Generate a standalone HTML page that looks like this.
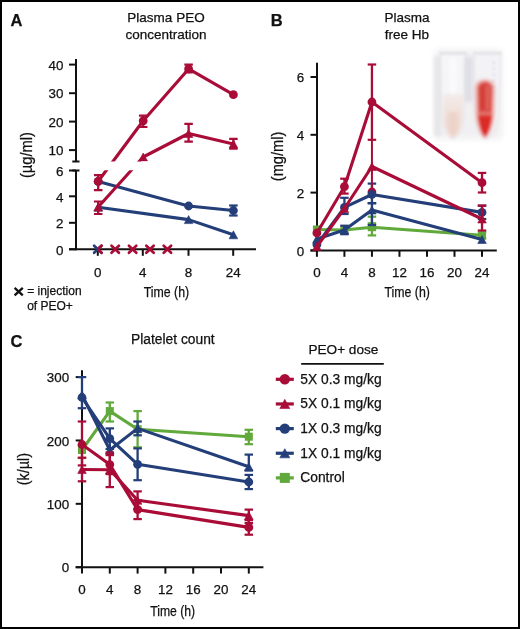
<!DOCTYPE html>
<html><head><meta charset="utf-8"><style>
html,body{margin:0;padding:0;background:#fff;}
body{width:520px;height:629px;overflow:hidden;}
svg{display:block;will-change:transform;font-family:"Liberation Sans",sans-serif;fill:#111;}
svg text{fill:#111;stroke:#111;stroke-width:0.25px;}
</style></head><body>
<svg width="520" height="629" viewBox="0 0 520 629">
<defs>
<clipPath id="gapA"><rect x="0" y="0" width="520" height="161.5"/><rect x="0" y="170.3" width="520" height="460"/></clipPath>
<clipPath id="rightHalf"><rect x="97.8" y="230" width="20" height="40"/></clipPath>
<linearGradient id="pinkL" x1="0" y1="0" x2="0" y2="1"><stop offset="0" stop-color="#f3ebe9"/><stop offset="0.6" stop-color="#f0ddd6"/><stop offset="1" stop-color="#edd3c9"/></linearGradient>
<radialGradient id="photoBg" cx="0.5" cy="0.5" r="0.6"><stop offset="0" stop-color="#f1f1f3"/><stop offset="0.75" stop-color="#f4f4f5"/><stop offset="1" stop-color="#ffffff"/></radialGradient>
<filter id="soft1" x="-20%" y="-20%" width="140%" height="140%"><feGaussianBlur stdDeviation="0.8"/></filter>
<filter id="soft2" x="-20%" y="-20%" width="140%" height="140%"><feGaussianBlur stdDeviation="1.5"/></filter>
<filter id="soft15" x="-20%" y="-20%" width="140%" height="140%"><feGaussianBlur stdDeviation="1.1"/></filter>
<filter id="soft3" x="-20%" y="-20%" width="140%" height="140%"><feGaussianBlur stdDeviation="3"/></filter>
</defs>
<rect x="0" y="0" width="520" height="629" fill="#fff"/>
<text x="10.5" y="26" font-size="16.5" text-anchor="start" font-weight="bold">A</text>
<text x="166" y="22" font-size="13.5" text-anchor="middle" >Plasma PEO</text>
<text x="166" y="38.5" font-size="13.5" text-anchor="middle" >concentration</text>
<line x1="76.00" y1="59.00" x2="76.00" y2="161.50" stroke="#111" stroke-width="2" stroke-linecap="butt"/>
<line x1="72.30" y1="161.50" x2="79.50" y2="161.50" stroke="#111" stroke-width="2" stroke-linecap="butt"/>
<line x1="76.00" y1="170.50" x2="76.00" y2="250.30" stroke="#111" stroke-width="2" stroke-linecap="butt"/>
<line x1="72.30" y1="170.50" x2="79.50" y2="170.50" stroke="#111" stroke-width="2" stroke-linecap="butt"/>
<line x1="69.00" y1="64.60" x2="76.00" y2="64.60" stroke="#111" stroke-width="2" stroke-linecap="butt"/>
<text x="63.5" y="69.8" font-size="13.4" text-anchor="end" >40</text>
<line x1="69.00" y1="93.20" x2="76.00" y2="93.20" stroke="#111" stroke-width="2" stroke-linecap="butt"/>
<text x="63.5" y="98.4" font-size="13.4" text-anchor="end" >30</text>
<line x1="69.00" y1="121.60" x2="76.00" y2="121.60" stroke="#111" stroke-width="2" stroke-linecap="butt"/>
<text x="63.5" y="126.8" font-size="13.4" text-anchor="end" >20</text>
<line x1="69.00" y1="150.10" x2="76.00" y2="150.10" stroke="#111" stroke-width="2" stroke-linecap="butt"/>
<text x="63.5" y="155.29999999999998" font-size="13.4" text-anchor="end" >10</text>
<line x1="69.00" y1="170.50" x2="76.00" y2="170.50" stroke="#111" stroke-width="2" stroke-linecap="butt"/>
<text x="63.5" y="175.7" font-size="13.4" text-anchor="end" >6</text>
<line x1="69.00" y1="196.30" x2="76.00" y2="196.30" stroke="#111" stroke-width="2" stroke-linecap="butt"/>
<text x="63.5" y="201.5" font-size="13.4" text-anchor="end" >4</text>
<line x1="69.00" y1="222.80" x2="76.00" y2="222.80" stroke="#111" stroke-width="2" stroke-linecap="butt"/>
<text x="63.5" y="228.0" font-size="13.4" text-anchor="end" >2</text>
<line x1="69.00" y1="249.30" x2="76.00" y2="249.30" stroke="#111" stroke-width="2" stroke-linecap="butt"/>
<text x="63.5" y="254.5" font-size="13.4" text-anchor="end" >0</text>
<line x1="69.00" y1="249.30" x2="256.00" y2="249.30" stroke="#111" stroke-width="2" stroke-linecap="butt"/>
<line x1="97.80" y1="249.30" x2="97.80" y2="255.80" stroke="#111" stroke-width="2" stroke-linecap="butt"/>
<text x="97.8" y="277" font-size="13.4" text-anchor="middle" >0</text>
<line x1="142.80" y1="249.30" x2="142.80" y2="255.80" stroke="#111" stroke-width="2" stroke-linecap="butt"/>
<text x="142.8" y="277" font-size="13.4" text-anchor="middle" >4</text>
<line x1="188.50" y1="249.30" x2="188.50" y2="255.80" stroke="#111" stroke-width="2" stroke-linecap="butt"/>
<text x="188.5" y="277" font-size="13.4" text-anchor="middle" >8</text>
<line x1="233.20" y1="249.30" x2="233.20" y2="255.80" stroke="#111" stroke-width="2" stroke-linecap="butt"/>
<text x="233.2" y="277" font-size="13.4" text-anchor="middle" >24</text>
<text x="166.4" y="296.5" font-size="14.6" text-anchor="middle" textLength="45.5" lengthAdjust="spacingAndGlyphs">Time (h)</text>
<text transform="translate(32.3,155.1) rotate(-90)" font-size="16" text-anchor="middle" textLength="46" lengthAdjust="spacingAndGlyphs">(µg/ml)</text>
<line x1="14.60" y1="287.90" x2="22.80" y2="295.30" stroke="#111" stroke-width="2.3" stroke-linecap="butt"/>
<line x1="22.80" y1="287.90" x2="14.60" y2="295.30" stroke="#111" stroke-width="2.3" stroke-linecap="butt"/>
<text x="27.2" y="295.4" font-size="12" text-anchor="start" >= injection</text>
<text x="27.2" y="310" font-size="12" text-anchor="start" >of PEO+</text>
<polyline points="98.20,181.50 188.60,206.00 233.40,210.50" fill="none" stroke="#243E79" stroke-width="3.1" stroke-linejoin="round" stroke-linecap="round"/>
<polyline points="98.20,207.20 188.60,219.60 233.40,234.80" fill="none" stroke="#243E79" stroke-width="3.1" stroke-linejoin="round" stroke-linecap="round"/>
<circle cx="98.20" cy="181.50" r="4.4" fill="#243E79"/>
<circle cx="188.60" cy="206.00" r="4.4" fill="#243E79"/>
<circle cx="233.40" cy="210.50" r="4.4" fill="#243E79"/>
<polygon points="98.20,203.20 102.50,211.20 93.90,211.20" fill="#243E79" stroke="#243E79" stroke-width="0.6" stroke-linejoin="round"/>
<polygon points="188.60,215.60 192.90,223.60 184.30,223.60" fill="#243E79" stroke="#243E79" stroke-width="0.6" stroke-linejoin="round"/>
<polygon points="233.40,230.80 237.70,238.80 229.10,238.80" fill="#243E79" stroke="#243E79" stroke-width="0.6" stroke-linejoin="round"/>
<line x1="233.40" y1="205.50" x2="233.40" y2="215.50" stroke="#243E79" stroke-width="2.3" stroke-linecap="butt"/>
<line x1="229.15" y1="205.50" x2="237.65" y2="205.50" stroke="#243E79" stroke-width="2.2" stroke-linecap="butt"/>
<line x1="229.15" y1="215.50" x2="237.65" y2="215.50" stroke="#243E79" stroke-width="2.2" stroke-linecap="butt"/>
<g clip-path="url(#gapA)">
<polyline points="98.20,181.30 143.20,120.80 188.60,68.90 233.40,94.70" fill="none" stroke="#A80C37" stroke-width="3.1" stroke-linejoin="round" stroke-linecap="round"/>
<polyline points="98.20,207.00 143.20,157.00 188.60,133.50 233.40,143.90" fill="none" stroke="#A80C37" stroke-width="3.1" stroke-linejoin="round" stroke-linecap="round"/>
<circle cx="98.20" cy="181.30" r="4.4" fill="#A80C37"/>
<circle cx="143.20" cy="120.80" r="4.4" fill="#A80C37"/>
<circle cx="188.60" cy="68.90" r="4.4" fill="#A80C37"/>
<circle cx="233.40" cy="94.70" r="4.4" fill="#A80C37"/>
<polygon points="98.20,203.00 102.50,211.00 93.90,211.00" fill="#A80C37" stroke="#A80C37" stroke-width="0.6" stroke-linejoin="round"/>
<polygon points="143.20,153.00 147.50,161.00 138.90,161.00" fill="#A80C37" stroke="#A80C37" stroke-width="0.6" stroke-linejoin="round"/>
<polygon points="188.60,129.50 192.90,137.50 184.30,137.50" fill="#A80C37" stroke="#A80C37" stroke-width="0.6" stroke-linejoin="round"/>
<polygon points="233.40,139.90 237.70,147.90 229.10,147.90" fill="#A80C37" stroke="#A80C37" stroke-width="0.6" stroke-linejoin="round"/>
<line x1="98.20" y1="175.20" x2="98.20" y2="190.20" stroke="#A80C37" stroke-width="2.3" stroke-linecap="butt"/>
<line x1="93.95" y1="175.20" x2="102.45" y2="175.20" stroke="#A80C37" stroke-width="2.2" stroke-linecap="butt"/>
<line x1="93.95" y1="190.20" x2="102.45" y2="190.20" stroke="#A80C37" stroke-width="2.2" stroke-linecap="butt"/>
<line x1="98.20" y1="201.50" x2="98.20" y2="214.00" stroke="#A80C37" stroke-width="2.3" stroke-linecap="butt"/>
<line x1="93.95" y1="201.50" x2="102.45" y2="201.50" stroke="#A80C37" stroke-width="2.2" stroke-linecap="butt"/>
<line x1="93.95" y1="214.00" x2="102.45" y2="214.00" stroke="#A80C37" stroke-width="2.2" stroke-linecap="butt"/>
<line x1="143.20" y1="115.60" x2="143.20" y2="127.00" stroke="#A80C37" stroke-width="2.3" stroke-linecap="butt"/>
<line x1="138.95" y1="115.60" x2="147.45" y2="115.60" stroke="#A80C37" stroke-width="2.2" stroke-linecap="butt"/>
<line x1="138.95" y1="127.00" x2="147.45" y2="127.00" stroke="#A80C37" stroke-width="2.2" stroke-linecap="butt"/>
<line x1="188.60" y1="64.70" x2="188.60" y2="72.40" stroke="#A80C37" stroke-width="2.3" stroke-linecap="butt"/>
<line x1="184.35" y1="64.70" x2="192.85" y2="64.70" stroke="#A80C37" stroke-width="2.2" stroke-linecap="butt"/>
<line x1="184.35" y1="72.40" x2="192.85" y2="72.40" stroke="#A80C37" stroke-width="2.2" stroke-linecap="butt"/>
<line x1="188.60" y1="123.90" x2="188.60" y2="141.60" stroke="#A80C37" stroke-width="2.3" stroke-linecap="butt"/>
<line x1="184.35" y1="123.90" x2="192.85" y2="123.90" stroke="#A80C37" stroke-width="2.2" stroke-linecap="butt"/>
<line x1="184.35" y1="141.60" x2="192.85" y2="141.60" stroke="#A80C37" stroke-width="2.2" stroke-linecap="butt"/>
<line x1="233.40" y1="138.80" x2="233.40" y2="148.60" stroke="#A80C37" stroke-width="2.3" stroke-linecap="butt"/>
<line x1="229.15" y1="138.80" x2="237.65" y2="138.80" stroke="#A80C37" stroke-width="2.2" stroke-linecap="butt"/>
<line x1="229.15" y1="148.60" x2="237.65" y2="148.60" stroke="#A80C37" stroke-width="2.2" stroke-linecap="butt"/>
</g>
<g>
<line x1="94.10" y1="245.70" x2="101.50" y2="252.70" stroke="#243E79" stroke-width="2.7" stroke-linecap="round"/>
<line x1="94.10" y1="252.70" x2="101.50" y2="245.70" stroke="#243E79" stroke-width="2.7" stroke-linecap="round"/>
</g>
<g clip-path="url(#rightHalf)">
<line x1="94.10" y1="245.70" x2="101.50" y2="252.70" stroke="#A80C37" stroke-width="2.7" stroke-linecap="round"/>
<line x1="94.10" y1="252.70" x2="101.50" y2="245.70" stroke="#A80C37" stroke-width="2.7" stroke-linecap="round"/>
</g>
<g>
<line x1="111.50" y1="245.70" x2="118.90" y2="252.70" stroke="#A80C37" stroke-width="2.7" stroke-linecap="round"/>
<line x1="111.50" y1="252.70" x2="118.90" y2="245.70" stroke="#A80C37" stroke-width="2.7" stroke-linecap="round"/>
</g>
<g>
<line x1="128.90" y1="245.70" x2="136.30" y2="252.70" stroke="#A80C37" stroke-width="2.7" stroke-linecap="round"/>
<line x1="128.90" y1="252.70" x2="136.30" y2="245.70" stroke="#A80C37" stroke-width="2.7" stroke-linecap="round"/>
</g>
<g>
<line x1="146.30" y1="245.70" x2="153.70" y2="252.70" stroke="#A80C37" stroke-width="2.7" stroke-linecap="round"/>
<line x1="146.30" y1="252.70" x2="153.70" y2="245.70" stroke="#A80C37" stroke-width="2.7" stroke-linecap="round"/>
</g>
<g>
<line x1="163.70" y1="245.70" x2="171.10" y2="252.70" stroke="#A80C37" stroke-width="2.7" stroke-linecap="round"/>
<line x1="163.70" y1="252.70" x2="171.10" y2="245.70" stroke="#A80C37" stroke-width="2.7" stroke-linecap="round"/>
</g>
<text x="270.8" y="26" font-size="16.5" text-anchor="start" font-weight="bold">B</text>
<text x="407" y="21.9" font-size="13.5" text-anchor="middle" >Plasma</text>
<text x="407" y="38.5" font-size="13.5" text-anchor="middle" >free Hb</text>
<g filter="url(#soft15)">
<rect x="435" y="50" width="67" height="89" fill="#f0eff1" filter="url(#soft3)"/>
<rect x="434" y="56" width="7" height="80" fill="#e6e5e8" filter="url(#soft2)"/>
<path d="M440.5,54 L465.5,54 L464,118 Q461,137 453,139 Q445,137 442,118 Z" fill="#f5f4f6" stroke="#e3e2e6" stroke-width="1"/>
<rect x="464.5" y="57" width="8" height="45" fill="#dedee6" filter="url(#soft2)"/>
<path d="M449,58 L457,58 L456,128 L450,128 Z" fill="#fafafb" filter="url(#soft2)"/>
<path d="M443,94 L463.5,94 L462.5,118 Q460,135 453,137.5 Q446,135 443.5,118 Z" fill="url(#pinkL)" filter="url(#soft1)"/>
<path d="M448,112 L458,112 L457,126 Q455,133 453,134 Q451,133 449,126 Z" fill="#ecd0c6" opacity="0.8" filter="url(#soft2)"/>
<path d="M474,54 L501,54 L499,118 Q495,137 486,139.5 Q477,137 475.5,118 Z" fill="#f3f2f5" stroke="#e3e2e6" stroke-width="1"/>
<rect x="439" y="51.5" width="28" height="3.5" fill="#e5e4e8"/>
<rect x="473" y="51.5" width="29" height="3.5" fill="#e5e4e8"/>
<g filter="url(#soft1)">
<path d="M474.5,88 Q475,79.5 485,79 Q495,79.5 495.5,88 L495,114 Q492,135 485,138.5 Q478,135 475,114 Z" fill="#f0bcb8"/>
<path d="M477.5,88 Q478,82 485,81.5 Q492,82 492.5,88 L492,114 Q490,133 485,137 Q480,133 478,114 Z" fill="#da4c44"/>
<path d="M481,86 L484,86 L484,110 L481,110 Z" fill="#cf302b" opacity="0.7"/>
<path d="M486.5,86 L489,86 L488.5,110 L486.5,110 Z" fill="#e4807a" opacity="0.6"/>
<path d="M477.5,116 L492.5,116 Q490,133 485,137 Q480,133 477.5,116 Z" fill="#dc2b25"/>
<rect x="477" y="112.5" width="16" height="2" fill="#ec9590" opacity="0.8"/>
</g>
<g fill="#a3a9cf" opacity="0.7"><rect x="493" y="62" width="1.6" height="1.4"/><rect x="493" y="68" width="1.6" height="1.4"/><rect x="493" y="74" width="1.6" height="1.4"/><rect x="493" y="80" width="1.6" height="1.4"/><rect x="493" y="86" width="1.6" height="1.4"/><rect x="493" y="92" width="1.6" height="1.4"/></g>
</g>
<line x1="317.00" y1="62.70" x2="317.00" y2="251.40" stroke="#111" stroke-width="2" stroke-linecap="butt"/>
<line x1="310.50" y1="250.40" x2="317.00" y2="250.40" stroke="#111" stroke-width="2" stroke-linecap="butt"/>
<text x="304.3" y="255.6" font-size="13.4" text-anchor="end" >0</text>
<line x1="310.50" y1="192.60" x2="317.00" y2="192.60" stroke="#111" stroke-width="2" stroke-linecap="butt"/>
<text x="304.3" y="197.8" font-size="13.4" text-anchor="end" >2</text>
<line x1="310.50" y1="134.80" x2="317.00" y2="134.80" stroke="#111" stroke-width="2" stroke-linecap="butt"/>
<text x="304.3" y="140.0" font-size="13.4" text-anchor="end" >4</text>
<line x1="310.50" y1="77.00" x2="317.00" y2="77.00" stroke="#111" stroke-width="2" stroke-linecap="butt"/>
<text x="304.3" y="82.20000000000003" font-size="13.4" text-anchor="end" >6</text>
<line x1="310.50" y1="250.40" x2="496.80" y2="250.40" stroke="#111" stroke-width="2" stroke-linecap="butt"/>
<line x1="316.90" y1="250.40" x2="316.90" y2="256.80" stroke="#111" stroke-width="2" stroke-linecap="butt"/>
<text x="316.9" y="277.4" font-size="13.4" text-anchor="middle" >0</text>
<line x1="344.42" y1="250.40" x2="344.42" y2="256.80" stroke="#111" stroke-width="2" stroke-linecap="butt"/>
<text x="344.41999999999996" y="277.4" font-size="13.4" text-anchor="middle" >4</text>
<line x1="371.94" y1="250.40" x2="371.94" y2="256.80" stroke="#111" stroke-width="2" stroke-linecap="butt"/>
<text x="371.94" y="277.4" font-size="13.4" text-anchor="middle" >8</text>
<line x1="399.46" y1="250.40" x2="399.46" y2="256.80" stroke="#111" stroke-width="2" stroke-linecap="butt"/>
<text x="399.46" y="277.4" font-size="13.4" text-anchor="middle" >12</text>
<line x1="426.98" y1="250.40" x2="426.98" y2="256.80" stroke="#111" stroke-width="2" stroke-linecap="butt"/>
<text x="426.97999999999996" y="277.4" font-size="13.4" text-anchor="middle" >16</text>
<line x1="454.50" y1="250.40" x2="454.50" y2="256.80" stroke="#111" stroke-width="2" stroke-linecap="butt"/>
<text x="454.5" y="277.4" font-size="13.4" text-anchor="middle" >20</text>
<line x1="482.02" y1="250.40" x2="482.02" y2="256.80" stroke="#111" stroke-width="2" stroke-linecap="butt"/>
<text x="482.02" y="277.4" font-size="13.4" text-anchor="middle" >24</text>
<text x="407.2" y="296.6" font-size="14.6" text-anchor="middle" textLength="45.5" lengthAdjust="spacingAndGlyphs">Time (h)</text>
<text transform="translate(282.6,156.4) rotate(-90)" font-size="16" text-anchor="middle" textLength="49.6" lengthAdjust="spacingAndGlyphs">(mg/ml)</text>
<polyline points="316.90,229.50 344.42,230.00 371.94,227.20 482.02,235.30" fill="none" stroke="#60A93A" stroke-width="3.1" stroke-linejoin="round" stroke-linecap="round"/>
<rect x="312.90" y="225.50" width="8" height="8" fill="#60A93A"/>
<rect x="340.42" y="226.00" width="8" height="8" fill="#60A93A"/>
<rect x="367.94" y="223.20" width="8" height="8" fill="#60A93A"/>
<rect x="478.02" y="231.30" width="8" height="8" fill="#60A93A"/>
<line x1="371.94" y1="216.70" x2="371.94" y2="235.40" stroke="#60A93A" stroke-width="2.3" stroke-linecap="butt"/>
<line x1="367.69" y1="216.70" x2="376.19" y2="216.70" stroke="#60A93A" stroke-width="2.2" stroke-linecap="butt"/>
<line x1="367.69" y1="235.40" x2="376.19" y2="235.40" stroke="#60A93A" stroke-width="2.2" stroke-linecap="butt"/>
<line x1="371.94" y1="223.30" x2="371.94" y2="229.60" stroke="#60A93A" stroke-width="2.3" stroke-linecap="butt"/>
<line x1="367.69" y1="223.30" x2="376.19" y2="223.30" stroke="#60A93A" stroke-width="2.2" stroke-linecap="butt"/>
<line x1="367.69" y1="229.60" x2="376.19" y2="229.60" stroke="#60A93A" stroke-width="2.2" stroke-linecap="butt"/>
<line x1="482.02" y1="232.30" x2="482.02" y2="238.50" stroke="#60A93A" stroke-width="2.3" stroke-linecap="butt"/>
<line x1="477.77" y1="232.30" x2="486.27" y2="232.30" stroke="#60A93A" stroke-width="2.2" stroke-linecap="butt"/>
<line x1="477.77" y1="238.50" x2="486.27" y2="238.50" stroke="#60A93A" stroke-width="2.2" stroke-linecap="butt"/>
<polyline points="316.90,239.00 344.42,230.00 371.94,210.00 482.02,239.50" fill="none" stroke="#243E79" stroke-width="3.1" stroke-linejoin="round" stroke-linecap="round"/>
<polyline points="316.90,244.60 344.42,207.40 371.94,194.50 482.02,212.40" fill="none" stroke="#243E79" stroke-width="3.1" stroke-linejoin="round" stroke-linecap="round"/>
<line x1="344.42" y1="225.70" x2="344.42" y2="234.20" stroke="#243E79" stroke-width="2.3" stroke-linecap="butt"/>
<line x1="340.17" y1="225.70" x2="348.67" y2="225.70" stroke="#243E79" stroke-width="2.2" stroke-linecap="butt"/>
<line x1="340.17" y1="234.20" x2="348.67" y2="234.20" stroke="#243E79" stroke-width="2.2" stroke-linecap="butt"/>
<line x1="344.42" y1="197.80" x2="344.42" y2="214.00" stroke="#243E79" stroke-width="2.3" stroke-linecap="butt"/>
<line x1="340.17" y1="197.80" x2="348.67" y2="197.80" stroke="#243E79" stroke-width="2.2" stroke-linecap="butt"/>
<line x1="340.17" y1="214.00" x2="348.67" y2="214.00" stroke="#243E79" stroke-width="2.2" stroke-linecap="butt"/>
<line x1="371.94" y1="203.20" x2="371.94" y2="225.00" stroke="#243E79" stroke-width="2.3" stroke-linecap="butt"/>
<line x1="367.69" y1="203.20" x2="376.19" y2="203.20" stroke="#243E79" stroke-width="2.2" stroke-linecap="butt"/>
<line x1="367.69" y1="225.00" x2="376.19" y2="225.00" stroke="#243E79" stroke-width="2.2" stroke-linecap="butt"/>
<line x1="371.94" y1="183.60" x2="371.94" y2="203.20" stroke="#243E79" stroke-width="2.3" stroke-linecap="butt"/>
<line x1="367.69" y1="183.60" x2="376.19" y2="183.60" stroke="#243E79" stroke-width="2.2" stroke-linecap="butt"/>
<line x1="367.69" y1="203.20" x2="376.19" y2="203.20" stroke="#243E79" stroke-width="2.2" stroke-linecap="butt"/>
<line x1="482.02" y1="205.80" x2="482.02" y2="219.00" stroke="#243E79" stroke-width="2.3" stroke-linecap="butt"/>
<line x1="477.77" y1="205.80" x2="486.27" y2="205.80" stroke="#243E79" stroke-width="2.2" stroke-linecap="butt"/>
<line x1="477.77" y1="219.00" x2="486.27" y2="219.00" stroke="#243E79" stroke-width="2.2" stroke-linecap="butt"/>
<polygon points="316.90,235.00 321.20,243.00 312.60,243.00" fill="#243E79" stroke="#243E79" stroke-width="0.6" stroke-linejoin="round"/>
<polygon points="344.42,226.00 348.72,234.00 340.12,234.00" fill="#243E79" stroke="#243E79" stroke-width="0.6" stroke-linejoin="round"/>
<polygon points="371.94,206.00 376.24,214.00 367.64,214.00" fill="#243E79" stroke="#243E79" stroke-width="0.6" stroke-linejoin="round"/>
<polygon points="482.02,235.50 486.32,243.50 477.72,243.50" fill="#243E79" stroke="#243E79" stroke-width="0.6" stroke-linejoin="round"/>
<circle cx="371.94" cy="192.00" r="4.4" fill="#A80C37"/>
<circle cx="316.90" cy="244.60" r="4.4" fill="#243E79"/>
<circle cx="344.42" cy="207.40" r="4.4" fill="#243E79"/>
<circle cx="371.94" cy="194.50" r="4.4" fill="#243E79"/>
<circle cx="482.02" cy="212.40" r="4.4" fill="#243E79"/>
<polyline points="316.90,246.50 344.42,208.50 371.94,166.50 482.02,219.00" fill="none" stroke="#A80C37" stroke-width="3.1" stroke-linejoin="round" stroke-linecap="round"/>
<polyline points="316.90,233.00 344.42,186.70 371.94,102.00 482.02,182.70" fill="none" stroke="#A80C37" stroke-width="3.1" stroke-linejoin="round" stroke-linecap="round"/>
<line x1="344.42" y1="178.70" x2="344.42" y2="193.60" stroke="#A80C37" stroke-width="2.3" stroke-linecap="butt"/>
<line x1="340.17" y1="178.70" x2="348.67" y2="178.70" stroke="#A80C37" stroke-width="2.2" stroke-linecap="butt"/>
<line x1="340.17" y1="193.60" x2="348.67" y2="193.60" stroke="#A80C37" stroke-width="2.2" stroke-linecap="butt"/>
<line x1="371.94" y1="64.50" x2="371.94" y2="139.80" stroke="#A80C37" stroke-width="2.3" stroke-linecap="butt"/>
<line x1="367.69" y1="64.50" x2="376.19" y2="64.50" stroke="#A80C37" stroke-width="2.2" stroke-linecap="butt"/>
<line x1="367.69" y1="139.80" x2="376.19" y2="139.80" stroke="#A80C37" stroke-width="2.2" stroke-linecap="butt"/>
<line x1="371.94" y1="139.80" x2="371.94" y2="190.00" stroke="#A80C37" stroke-width="2" stroke-linecap="butt"/>
<line x1="482.02" y1="172.90" x2="482.02" y2="192.50" stroke="#A80C37" stroke-width="2.3" stroke-linecap="butt"/>
<line x1="477.77" y1="172.90" x2="486.27" y2="172.90" stroke="#A80C37" stroke-width="2.2" stroke-linecap="butt"/>
<line x1="477.77" y1="192.50" x2="486.27" y2="192.50" stroke="#A80C37" stroke-width="2.2" stroke-linecap="butt"/>
<line x1="482.02" y1="205.50" x2="482.02" y2="230.50" stroke="#A80C37" stroke-width="2.3" stroke-linecap="butt"/>
<line x1="477.77" y1="205.50" x2="486.27" y2="205.50" stroke="#A80C37" stroke-width="2.2" stroke-linecap="butt"/>
<line x1="477.77" y1="230.50" x2="486.27" y2="230.50" stroke="#A80C37" stroke-width="2.2" stroke-linecap="butt"/>
<polygon points="316.90,242.50 321.20,250.50 312.60,250.50" fill="#A80C37" stroke="#A80C37" stroke-width="0.6" stroke-linejoin="round"/>
<polygon points="344.42,204.50 348.72,212.50 340.12,212.50" fill="#A80C37" stroke="#A80C37" stroke-width="0.6" stroke-linejoin="round"/>
<polygon points="371.94,162.50 376.24,170.50 367.64,170.50" fill="#A80C37" stroke="#A80C37" stroke-width="0.6" stroke-linejoin="round"/>
<polygon points="482.02,215.00 486.32,223.00 477.72,223.00" fill="#A80C37" stroke="#A80C37" stroke-width="0.6" stroke-linejoin="round"/>
<circle cx="316.90" cy="233.00" r="4.4" fill="#A80C37"/>
<circle cx="344.42" cy="186.70" r="4.4" fill="#A80C37"/>
<circle cx="371.94" cy="102.00" r="4.4" fill="#A80C37"/>
<circle cx="482.02" cy="182.70" r="4.4" fill="#A80C37"/>
<text x="10.6" y="346.5" font-size="16.5" text-anchor="start" font-weight="bold">C</text>
<text x="172.9" y="344.4" font-size="13.8" text-anchor="middle" >Platelet count</text>
<line x1="82.00" y1="370.20" x2="82.00" y2="568.20" stroke="#111" stroke-width="2" stroke-linecap="butt"/>
<line x1="75.70" y1="567.20" x2="82.00" y2="567.20" stroke="#111" stroke-width="2" stroke-linecap="butt"/>
<text x="69.2" y="572.3000000000001" font-size="13.4" text-anchor="end" >0</text>
<line x1="75.70" y1="503.83" x2="82.00" y2="503.83" stroke="#111" stroke-width="2" stroke-linecap="butt"/>
<text x="69.2" y="508.93000000000006" font-size="13.4" text-anchor="end" >100</text>
<line x1="75.70" y1="440.46" x2="82.00" y2="440.46" stroke="#111" stroke-width="2" stroke-linecap="butt"/>
<text x="69.2" y="445.56000000000006" font-size="13.4" text-anchor="end" >200</text>
<line x1="75.70" y1="377.09" x2="82.00" y2="377.09" stroke="#111" stroke-width="2" stroke-linecap="butt"/>
<text x="69.2" y="382.19000000000005" font-size="13.4" text-anchor="end" >300</text>
<line x1="75.70" y1="567.20" x2="263.40" y2="567.20" stroke="#111" stroke-width="2" stroke-linecap="butt"/>
<line x1="82.00" y1="567.20" x2="82.00" y2="573.60" stroke="#111" stroke-width="2" stroke-linecap="butt"/>
<text x="82.0" y="594.3" font-size="13.4" text-anchor="middle" >0</text>
<line x1="109.80" y1="567.20" x2="109.80" y2="573.60" stroke="#111" stroke-width="2" stroke-linecap="butt"/>
<text x="109.8" y="594.3" font-size="13.4" text-anchor="middle" >4</text>
<line x1="137.60" y1="567.20" x2="137.60" y2="573.60" stroke="#111" stroke-width="2" stroke-linecap="butt"/>
<text x="137.6" y="594.3" font-size="13.4" text-anchor="middle" >8</text>
<line x1="165.40" y1="567.20" x2="165.40" y2="573.60" stroke="#111" stroke-width="2" stroke-linecap="butt"/>
<text x="165.4" y="594.3" font-size="13.4" text-anchor="middle" >12</text>
<line x1="193.20" y1="567.20" x2="193.20" y2="573.60" stroke="#111" stroke-width="2" stroke-linecap="butt"/>
<text x="193.2" y="594.3" font-size="13.4" text-anchor="middle" >16</text>
<line x1="221.00" y1="567.20" x2="221.00" y2="573.60" stroke="#111" stroke-width="2" stroke-linecap="butt"/>
<text x="221.0" y="594.3" font-size="13.4" text-anchor="middle" >20</text>
<line x1="248.80" y1="567.20" x2="248.80" y2="573.60" stroke="#111" stroke-width="2" stroke-linecap="butt"/>
<text x="248.8" y="594.3" font-size="13.4" text-anchor="middle" >24</text>
<text x="172.7" y="615.8" font-size="14.6" text-anchor="middle" textLength="45" lengthAdjust="spacingAndGlyphs">Time (h)</text>
<text transform="translate(28.9,469.1) rotate(-90)" font-size="16" text-anchor="middle" textLength="32.4" lengthAdjust="spacingAndGlyphs">(k/µl)</text>
<polyline points="82.00,450.00 109.80,411.10 137.60,429.20 248.80,436.70" fill="none" stroke="#60A93A" stroke-width="3.1" stroke-linejoin="round" stroke-linecap="round"/>
<line x1="82.00" y1="446.00" x2="82.00" y2="458.00" stroke="#60A93A" stroke-width="2.3" stroke-linecap="butt"/>
<line x1="77.75" y1="446.00" x2="86.25" y2="446.00" stroke="#60A93A" stroke-width="2.2" stroke-linecap="butt"/>
<line x1="77.75" y1="458.00" x2="86.25" y2="458.00" stroke="#60A93A" stroke-width="2.2" stroke-linecap="butt"/>
<line x1="109.80" y1="402.50" x2="109.80" y2="421.50" stroke="#60A93A" stroke-width="2.3" stroke-linecap="butt"/>
<line x1="105.55" y1="402.50" x2="114.05" y2="402.50" stroke="#60A93A" stroke-width="2.2" stroke-linecap="butt"/>
<line x1="105.55" y1="421.50" x2="114.05" y2="421.50" stroke="#60A93A" stroke-width="2.2" stroke-linecap="butt"/>
<line x1="137.60" y1="411.10" x2="137.60" y2="447.30" stroke="#60A93A" stroke-width="2.3" stroke-linecap="butt"/>
<line x1="133.35" y1="411.10" x2="141.85" y2="411.10" stroke="#60A93A" stroke-width="2.2" stroke-linecap="butt"/>
<line x1="133.35" y1="447.30" x2="141.85" y2="447.30" stroke="#60A93A" stroke-width="2.2" stroke-linecap="butt"/>
<line x1="248.80" y1="429.80" x2="248.80" y2="444.20" stroke="#60A93A" stroke-width="2.3" stroke-linecap="butt"/>
<line x1="244.55" y1="429.80" x2="253.05" y2="429.80" stroke="#60A93A" stroke-width="2.2" stroke-linecap="butt"/>
<line x1="244.55" y1="444.20" x2="253.05" y2="444.20" stroke="#60A93A" stroke-width="2.2" stroke-linecap="butt"/>
<rect x="78.00" y="446.00" width="8" height="8" fill="#60A93A"/>
<rect x="105.80" y="407.10" width="8" height="8" fill="#60A93A"/>
<rect x="133.60" y="425.20" width="8" height="8" fill="#60A93A"/>
<rect x="244.80" y="432.70" width="8" height="8" fill="#60A93A"/>
<polyline points="82.00,395.00 109.80,450.00 137.60,428.40 248.80,466.80" fill="none" stroke="#243E79" stroke-width="3.1" stroke-linejoin="round" stroke-linecap="round"/>
<polyline points="82.00,397.50 109.80,438.70 137.60,464.30 248.80,482.00" fill="none" stroke="#243E79" stroke-width="3.1" stroke-linejoin="round" stroke-linecap="round"/>
<line x1="82.00" y1="377.10" x2="82.00" y2="408.20" stroke="#243E79" stroke-width="2.3" stroke-linecap="butt"/>
<line x1="77.75" y1="377.10" x2="86.25" y2="377.10" stroke="#243E79" stroke-width="2.2" stroke-linecap="butt"/>
<line x1="77.75" y1="408.20" x2="86.25" y2="408.20" stroke="#243E79" stroke-width="2.2" stroke-linecap="butt"/>
<line x1="109.80" y1="428.40" x2="109.80" y2="449.00" stroke="#243E79" stroke-width="2.3" stroke-linecap="butt"/>
<line x1="105.55" y1="428.40" x2="114.05" y2="428.40" stroke="#243E79" stroke-width="2.2" stroke-linecap="butt"/>
<line x1="105.55" y1="449.00" x2="114.05" y2="449.00" stroke="#243E79" stroke-width="2.2" stroke-linecap="butt"/>
<line x1="137.60" y1="421.50" x2="137.60" y2="435.30" stroke="#243E79" stroke-width="2.3" stroke-linecap="butt"/>
<line x1="133.35" y1="421.50" x2="141.85" y2="421.50" stroke="#243E79" stroke-width="2.2" stroke-linecap="butt"/>
<line x1="133.35" y1="435.30" x2="141.85" y2="435.30" stroke="#243E79" stroke-width="2.2" stroke-linecap="butt"/>
<line x1="137.60" y1="448.40" x2="137.60" y2="480.20" stroke="#243E79" stroke-width="2.3" stroke-linecap="butt"/>
<line x1="133.35" y1="448.40" x2="141.85" y2="448.40" stroke="#243E79" stroke-width="2.2" stroke-linecap="butt"/>
<line x1="133.35" y1="480.20" x2="141.85" y2="480.20" stroke="#243E79" stroke-width="2.2" stroke-linecap="butt"/>
<line x1="248.80" y1="454.60" x2="248.80" y2="470.50" stroke="#243E79" stroke-width="2.3" stroke-linecap="butt"/>
<line x1="244.55" y1="454.60" x2="253.05" y2="454.60" stroke="#243E79" stroke-width="2.2" stroke-linecap="butt"/>
<line x1="244.55" y1="470.50" x2="253.05" y2="470.50" stroke="#243E79" stroke-width="2.2" stroke-linecap="butt"/>
<line x1="248.80" y1="474.90" x2="248.80" y2="489.10" stroke="#243E79" stroke-width="2.3" stroke-linecap="butt"/>
<line x1="244.55" y1="474.90" x2="253.05" y2="474.90" stroke="#243E79" stroke-width="2.2" stroke-linecap="butt"/>
<line x1="244.55" y1="489.10" x2="253.05" y2="489.10" stroke="#243E79" stroke-width="2.2" stroke-linecap="butt"/>
<polygon points="82.00,391.00 86.30,399.00 77.70,399.00" fill="#243E79" stroke="#243E79" stroke-width="0.6" stroke-linejoin="round"/>
<polygon points="109.80,446.00 114.10,454.00 105.50,454.00" fill="#243E79" stroke="#243E79" stroke-width="0.6" stroke-linejoin="round"/>
<polygon points="137.60,424.40 141.90,432.40 133.30,432.40" fill="#243E79" stroke="#243E79" stroke-width="0.6" stroke-linejoin="round"/>
<polygon points="248.80,462.80 253.10,470.80 244.50,470.80" fill="#243E79" stroke="#243E79" stroke-width="0.6" stroke-linejoin="round"/>
<circle cx="82.00" cy="397.50" r="4.4" fill="#243E79"/>
<circle cx="109.80" cy="438.70" r="4.4" fill="#243E79"/>
<circle cx="137.60" cy="464.30" r="4.4" fill="#243E79"/>
<circle cx="248.80" cy="482.00" r="4.4" fill="#243E79"/>
<polyline points="82.00,469.50 109.80,469.80 137.60,500.30 248.80,515.60" fill="none" stroke="#A80C37" stroke-width="3.1" stroke-linejoin="round" stroke-linecap="round"/>
<polyline points="82.00,444.50 109.80,464.60 137.60,509.60 248.80,527.40" fill="none" stroke="#A80C37" stroke-width="3.1" stroke-linejoin="round" stroke-linecap="round"/>
<line x1="82.00" y1="421.50" x2="82.00" y2="465.40" stroke="#A80C37" stroke-width="2.3" stroke-linecap="butt"/>
<line x1="77.75" y1="421.50" x2="86.25" y2="421.50" stroke="#A80C37" stroke-width="2.2" stroke-linecap="butt"/>
<line x1="77.75" y1="465.40" x2="86.25" y2="465.40" stroke="#A80C37" stroke-width="2.2" stroke-linecap="butt"/>
<line x1="82.00" y1="457.70" x2="82.00" y2="481.30" stroke="#A80C37" stroke-width="2.3" stroke-linecap="butt"/>
<line x1="77.75" y1="457.70" x2="86.25" y2="457.70" stroke="#A80C37" stroke-width="2.2" stroke-linecap="butt"/>
<line x1="77.75" y1="481.30" x2="86.25" y2="481.30" stroke="#A80C37" stroke-width="2.2" stroke-linecap="butt"/>
<line x1="109.80" y1="455.10" x2="109.80" y2="474.10" stroke="#A80C37" stroke-width="2.3" stroke-linecap="butt"/>
<line x1="105.55" y1="455.10" x2="114.05" y2="455.10" stroke="#A80C37" stroke-width="2.2" stroke-linecap="butt"/>
<line x1="105.55" y1="474.10" x2="114.05" y2="474.10" stroke="#A80C37" stroke-width="2.2" stroke-linecap="butt"/>
<line x1="109.80" y1="452.50" x2="109.80" y2="487.10" stroke="#A80C37" stroke-width="2.3" stroke-linecap="butt"/>
<line x1="105.55" y1="452.50" x2="114.05" y2="452.50" stroke="#A80C37" stroke-width="2.2" stroke-linecap="butt"/>
<line x1="105.55" y1="487.10" x2="114.05" y2="487.10" stroke="#A80C37" stroke-width="2.2" stroke-linecap="butt"/>
<line x1="137.60" y1="491.40" x2="137.60" y2="508.80" stroke="#A80C37" stroke-width="2.3" stroke-linecap="butt"/>
<line x1="133.35" y1="491.40" x2="141.85" y2="491.40" stroke="#A80C37" stroke-width="2.2" stroke-linecap="butt"/>
<line x1="133.35" y1="508.80" x2="141.85" y2="508.80" stroke="#A80C37" stroke-width="2.2" stroke-linecap="butt"/>
<line x1="137.60" y1="500.10" x2="137.60" y2="519.10" stroke="#A80C37" stroke-width="2.3" stroke-linecap="butt"/>
<line x1="133.35" y1="500.10" x2="141.85" y2="500.10" stroke="#A80C37" stroke-width="2.2" stroke-linecap="butt"/>
<line x1="133.35" y1="519.10" x2="141.85" y2="519.10" stroke="#A80C37" stroke-width="2.2" stroke-linecap="butt"/>
<line x1="248.80" y1="509.60" x2="248.80" y2="523.00" stroke="#A80C37" stroke-width="2.3" stroke-linecap="butt"/>
<line x1="244.55" y1="509.60" x2="253.05" y2="509.60" stroke="#A80C37" stroke-width="2.2" stroke-linecap="butt"/>
<line x1="244.55" y1="523.00" x2="253.05" y2="523.00" stroke="#A80C37" stroke-width="2.2" stroke-linecap="butt"/>
<line x1="248.80" y1="520.10" x2="248.80" y2="534.70" stroke="#A80C37" stroke-width="2.3" stroke-linecap="butt"/>
<line x1="244.55" y1="520.10" x2="253.05" y2="520.10" stroke="#A80C37" stroke-width="2.2" stroke-linecap="butt"/>
<line x1="244.55" y1="534.70" x2="253.05" y2="534.70" stroke="#A80C37" stroke-width="2.2" stroke-linecap="butt"/>
<polygon points="82.00,465.50 86.30,473.50 77.70,473.50" fill="#A80C37" stroke="#A80C37" stroke-width="0.6" stroke-linejoin="round"/>
<polygon points="109.80,465.80 114.10,473.80 105.50,473.80" fill="#A80C37" stroke="#A80C37" stroke-width="0.6" stroke-linejoin="round"/>
<polygon points="137.60,496.30 141.90,504.30 133.30,504.30" fill="#A80C37" stroke="#A80C37" stroke-width="0.6" stroke-linejoin="round"/>
<polygon points="248.80,511.60 253.10,519.60 244.50,519.60" fill="#A80C37" stroke="#A80C37" stroke-width="0.6" stroke-linejoin="round"/>
<circle cx="82.00" cy="444.50" r="4.4" fill="#A80C37"/>
<circle cx="109.80" cy="464.60" r="4.4" fill="#A80C37"/>
<circle cx="137.60" cy="509.60" r="4.4" fill="#A80C37"/>
<circle cx="248.80" cy="527.40" r="4.4" fill="#A80C37"/>
<text x="343.4" y="353.7" font-size="13.6" text-anchor="middle" >PEO+ dose</text>
<line x1="301.20" y1="363.80" x2="383.80" y2="363.80" stroke="#111" stroke-width="1.8" stroke-linecap="butt"/>
<line x1="275.80" y1="379.30" x2="293.80" y2="379.30" stroke="#A80C37" stroke-width="3.2" stroke-linecap="butt"/>
<circle cx="284.80" cy="379.30" r="5.2" fill="#A80C37"/>
<text x="300.3" y="383.8" font-size="13.8" text-anchor="start" >5X 0.3 mg/kg</text>
<line x1="275.80" y1="403.95" x2="293.80" y2="403.95" stroke="#A80C37" stroke-width="3.2" stroke-linecap="butt"/>
<polygon points="284.80,399.35 289.80,408.55 279.80,408.55" fill="#A80C37" stroke="#A80C37" stroke-width="0.6" stroke-linejoin="round"/>
<text x="300.3" y="408.45" font-size="13.8" text-anchor="start" >5X 0.1 mg/kg</text>
<line x1="275.80" y1="428.60" x2="293.80" y2="428.60" stroke="#243E79" stroke-width="3.2" stroke-linecap="butt"/>
<circle cx="284.80" cy="428.60" r="5.2" fill="#243E79"/>
<text x="300.3" y="433.1" font-size="13.8" text-anchor="start" >1X 0.3 mg/kg</text>
<line x1="275.80" y1="453.25" x2="293.80" y2="453.25" stroke="#243E79" stroke-width="3.2" stroke-linecap="butt"/>
<polygon points="284.80,448.65 289.80,457.85 279.80,457.85" fill="#243E79" stroke="#243E79" stroke-width="0.6" stroke-linejoin="round"/>
<text x="300.3" y="457.75" font-size="13.8" text-anchor="start" >1X 0.1 mg/kg</text>
<line x1="275.80" y1="477.90" x2="293.80" y2="477.90" stroke="#60A93A" stroke-width="3.2" stroke-linecap="butt"/>
<rect x="279.80" y="472.90" width="10" height="10" fill="#60A93A"/>
<text x="300.3" y="482.4" font-size="13.8" text-anchor="start" >Control</text>
<rect x="1" y="1" width="518" height="627" fill="none" stroke="#000" stroke-width="2"/>
</svg>
</body></html>
